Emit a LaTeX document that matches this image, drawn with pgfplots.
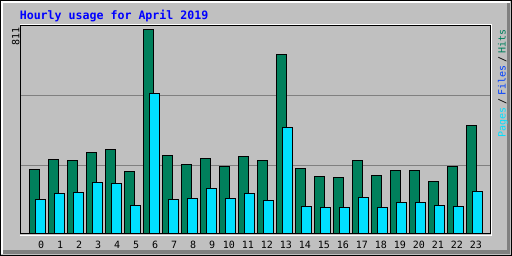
\documentclass[border=0pt]{standalone}
\usepackage{pgfplots}
\pgfplotsset{compat=1.18}
\usepackage{fontspec}
\newfontfamily\mono{DejaVu Sans Mono}
\definecolor{bgc}{HTML}{C0C0C0}
\definecolor{dkg}{HTML}{808080}
\definecolor{hitc}{HTML}{00805C}
\definecolor{pagec}{HTML}{00E0FF}
\definecolor{filec}{HTML}{0040FF}
\definecolor{titc}{HTML}{0000FF}
\begin{document}
\begin{tikzpicture}
\useasboundingbox (0,0) rectangle (512pt,256pt);
\fill[bgc] (0,0) rectangle (512pt,256pt);
% 3D bevel
\fill[white] (1pt,253pt) rectangle (510pt,255pt);
\fill[white] (1pt,2pt) rectangle (3pt,255pt);
\fill[dkg] (507pt,2pt) rectangle (510pt,253pt);
\fill[dkg] (3pt,2pt) rectangle (510pt,6pt);
\draw[black, line width=1pt] (0.5pt,0.5pt) rectangle (511.5pt,255.5pt);
% title
\node[anchor=base west, inner sep=0pt, text=titc, font=\mono\bfseries\fontsize{11.6pt}{12pt}\selectfont] at (19.6pt,236.7pt) {Hourly usage for April 2019};
\begin{axis}[
  at={(20.5pt,23pt)}, anchor=south west,
  width=470pt, height=208pt, scale only axis,
  xmin=-0.8947, xmax=23.842, ymin=0, ymax=828,
  axis line style={draw=none},
  ytick=\empty,
  major tick length=0pt,
  xtick={0.19,1.19,2.19,3.19,4.19,5.19,6.19,7.19,8.19,9.19,10.07,11.07,12.07,13.07,14.07,15.07,16.07,17.07,18.07,19.07,20.07,21.07,22.07,23.07},
  xticklabels={0,1,2,3,4,5,6,7,8,9,10,11,12,13,14,15,16,17,18,19,20,21,22,23},
  xticklabel style={anchor=base, yshift=-15.7pt, inner sep=0pt, font=\mono\fontsize{10pt}{12pt}\selectfont},
  extra y ticks={270,546},
  extra y tick labels={},
  extra y tick style={grid=major, major grid style={dkg, line width=1pt}},
]
\addplot[ybar, bar width=9.6pt, bar shift=-3pt, fill=hitc, draw=black, line width=0.9pt] coordinates {
(0,252) (1,292) (2,288) (3,320) (4,332) (5,244) (6,811) (7,308) (8,272) (9,296) (10,264) (11,304)
(12,288) (13,711) (14,256) (15,224) (16,220) (17,288) (18,228) (19,248) (20,248) (21,204) (22,264) (23,428)};
\addplot[ybar, bar width=9.6pt, bar shift=3pt, fill=pagec, draw=black, line width=0.9pt] coordinates {
(0,132) (1,156) (2,160) (3,200) (4,196) (5,109) (6,556) (7,132) (8,136) (9,176) (10,136) (11,156)
(12,129) (13,420) (14,105) (15,101) (16,101) (17,140) (18,101) (19,121) (20,121) (21,109) (22,105) (23,164)};
\end{axis}
% plot frame
\draw[white, line width=1pt] (19.5pt,20.8pt) -- (491.5pt,20.8pt) -- (491.5pt,231.5pt) -- (19.5pt,231.5pt);
\draw[black, line width=1pt] (20.5pt,22.8pt) rectangle (490.5pt,230.5pt);
% y max label
\node[rotate=90, anchor=base east, inner sep=0pt, font=\mono\fontsize{10pt}{12pt}\selectfont] at (19.3pt,228.7pt) {811};
% right legend
\node[rotate=90, anchor=base west, inner sep=0pt, font=\mono\fontsize{10pt}{12pt}\selectfont] at (505.5pt,118.4pt) {{\color{pagec}Pages}\kern3pt{\color{black}/}\kern3pt{\color{filec}Files}\kern3pt{\color{black}/}\kern3pt{\color{hitc}Hits}};
\end{tikzpicture}
\end{document}
